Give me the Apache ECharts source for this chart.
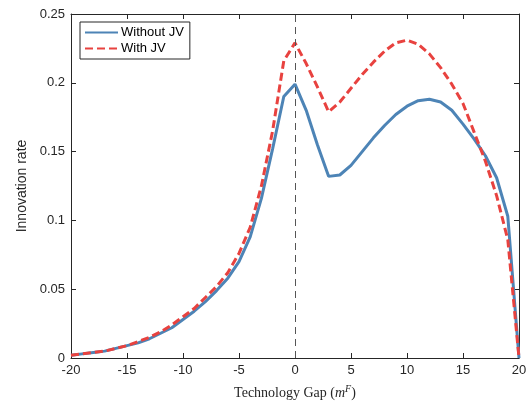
<!DOCTYPE html>
<html><head><meta charset="utf-8">
<script src="https://cdn.jsdelivr.net/npm/echarts@6/dist/echarts.min.js"></script>
<style>html,body{margin:0;padding:0;background:#fff}#c{width:531px;height:407px}</style>
</head><body><div id="c"></div>
<script>
const gap = [-20,-19,-18,-17,-16,-15,-14,-13,-12,-11,-10,-9,-8,-7,-6,-5,-4,-3,-2,-1,0,1,2,3,4,5,6,7,8,9,10,11,12,13,14,15,16,17,18,19,20];
const withoutJV = [0.002,0.003,0.004,0.005,0.007,0.009,0.011,0.014,0.018,0.022,0.028,0.034,0.041,0.049,0.058,0.070,0.088,0.116,0.152,0.190,0.199,0.180,0.155,0.132,0.133,0.140,0.150,0.160,0.169,0.177,0.183,0.187,0.188,0.186,0.180,0.170,0.159,0.147,0.131,0.103,0.000];
const withJV = [0.002,0.003,0.004,0.005,0.007,0.009,0.012,0.015,0.019,0.024,0.030,0.036,0.044,0.052,0.062,0.076,0.095,0.125,0.165,0.216,0.229,0.214,0.197,0.179,0.186,0.196,0.206,0.215,0.223,0.229,0.231,0.228,0.221,0.211,0.199,0.185,0.164,0.143,0.118,0.086,0.000];
const xTicks = [-20,20,5];
const yTicks = [0,0.25,0.05];
const seriesNames = ['Without JV','With JV'];

const chart = echarts.init(document.getElementById('c'));
const axisLine = {show:true, onZero:false, lineStyle:{color:'#262626', width:1}};
const tickIn = {show:true, inside:true, length:5, lineStyle:{color:'#262626'}};
const lab = {color:'#262626', fontSize:13, fontFamily:'Liberation Sans, Arial, sans-serif'};
chart.setOption({
  animation:false,
  grid:{left:71, right:12, top:14, bottom:49},
  legend:{
    data:seriesNames, orient:'vertical', left:80, top:22,
    itemWidth:33, itemHeight:12, itemGap:3,
    borderColor:'#262626', borderWidth:1, padding:[4,6,4,4],
    backgroundColor:'#fff',
    itemStyle:{opacity:0},
    textStyle:{fontSize:13, color:'#000', fontFamily:'Liberation Sans, Arial, sans-serif', padding:[0,0,0,-2]}
  },
  xAxis:[{
    type:'value', min:xTicks[0], max:xTicks[1], interval:xTicks[2],
    axisLine:axisLine, axisTick:tickIn, splitLine:{show:false},
    axisLabel:Object.assign({margin:6}, lab),
    name:'{a|Technology Gap (}{i|m}{s|F}{a|)}', nameLocation:'middle', nameGap:26,
    nameTextStyle:{rich:{
      a:{fontFamily:'Liberation Serif, serif', fontSize:14, color:'#262626'},
      i:{fontFamily:'Liberation Serif, serif', fontStyle:'italic', fontSize:14, color:'#262626'},
      s:{fontFamily:'Liberation Serif, serif', fontStyle:'italic', fontSize:10, color:'#262626', padding:[0,0,9,0]}
    }}
  },{
    type:'value', position:'top', min:xTicks[0], max:xTicks[1], interval:xTicks[2],
    axisLine:axisLine, axisTick:tickIn, axisLabel:{show:false}, splitLine:{show:false}
  }],
  yAxis:[{
    type:'value', position:'left', min:yTicks[0], max:yTicks[1], interval:yTicks[2],
    axisLine:axisLine, axisTick:tickIn, splitLine:{show:false},
    axisLabel:Object.assign({margin:6}, lab),
    name:'Innovation rate', nameLocation:'middle', nameGap:42,
    nameTextStyle:{fontSize:14, color:'#262626', fontFamily:'Liberation Sans, Arial, sans-serif'}
  },{
    type:'value', position:'right', min:yTicks[0], max:yTicks[1], interval:yTicks[2],
    axisLine:axisLine, axisTick:tickIn, axisLabel:{show:false}, splitLine:{show:false}
  }],
  series:[{
    name:seriesNames[0], type:'line', showSymbol:false, symbol:'none',
    data:gap.map((g,i)=>[g, withoutJV[i]]),
    lineStyle:{color:'#4d84b6', width:3}, itemStyle:{color:'#4d84b6'},
    markLine:{silent:true, symbol:'none', label:{show:false},
      lineStyle:{color:'#555', type:[7,5], width:1}, data:[{xAxis:0}]},
    z:3
  },{
    name:seriesNames[1], type:'line', showSymbol:false, symbol:'none',
    data:gap.map((g,i)=>[g, withJV[i]]),
    lineStyle:{color:'#e8423f', width:3, type:[8,4]}, itemStyle:{color:'#e8423f'},
    z:4
  }]
});
</script></body></html>
